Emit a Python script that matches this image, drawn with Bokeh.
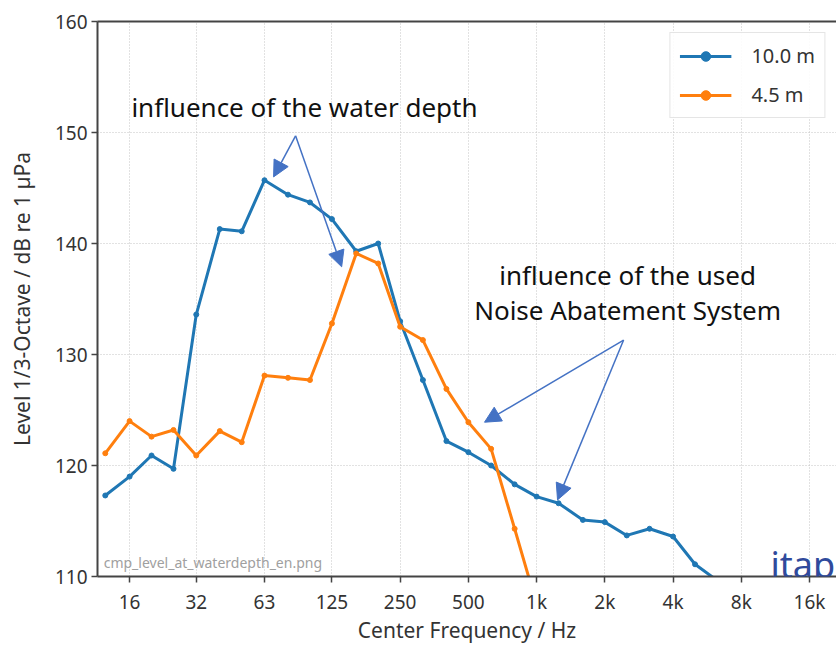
from bokeh.plotting import figure
from bokeh.models import FixedTicker, Arrow, NormalHead, Label, LogAxis
from bokeh.embed import file_html
from bokeh.resources import INLINE

# third-octave centre frequencies (Hz)
freq_10m = [12.5, 16, 20, 25, 31.5, 40, 50, 63, 80, 100, 125, 160, 200, 250, 315,
            400, 500, 630, 800, 1000, 1250, 1600, 2000, 2500, 3150, 4000, 5000, 6300]
level_10m = [117.3, 119.0, 120.9, 119.7, 133.6, 141.3, 141.1, 145.7, 144.4, 143.7, 142.2,
             139.3, 140.0, 133.0, 127.7, 122.2, 121.2, 120.0, 118.3, 117.2, 116.6, 115.1,
             114.9, 113.7, 114.3, 113.6, 111.1, 109.6]

freq_4_5m = [12.5, 16, 20, 25, 31.5, 40, 50, 63, 80, 100, 125, 160, 200, 250, 315,
             400, 500, 630, 800, 1000]
level_4_5m = [121.1, 124.0, 122.6, 123.2, 120.9, 123.1, 122.1, 128.1, 127.9, 127.7, 132.8,
              139.1, 138.2, 132.5, 131.3, 126.9, 123.9, 121.5, 114.3, 107.5]

series_labels = ["10.0 m", "4.5 m"]
series_colors = ["#1f77b4", "#ff7f0e"]

x_ticks = [16, 31.5, 63, 125, 250, 500, 1000, 2000, 4000, 8000, 16000]
x_tick_labels = ["16", "32", "63", "125", "250", "500", "1k", "2k", "4k", "8k", "16k"]
y_ticks = [110, 120, 130, 140, 150, 160]

x_title = "Center Frequency / Hz"
y_title = "Level 1/3-Octave / dB re 1 \u00b5Pa"

# annotation texts and arrows (data coordinates)
note_depth = "influence of the water depth"
note_depth_pos = (16.3, 152.3)
note_nas = ["influence of the used", "Noise Abatement System"]
note_nas_pos = [(2520, 137.2), (2520, 134.0)]
arrows_start = [(86.4, 149.7), (86.4, 149.7), (2420, 131.3), (2420, 131.3)]
arrows_end = [(69.1, 146.0), (138, 137.9), (1237, 116.9), (589, 123.9)]

FONT = "Noto Sans"
SPINE = "#444444"

p = figure(width=836, height=646, x_axis_type="log", x_range=(11.55, 21045),
           y_range=(110, 160), output_backend="svg", toolbar_location=None,
           min_border_left=97, min_border_right=0, min_border_top=21,
           min_border_bottom=70)
p.outline_line_color = None

# x axis
xt = FixedTicker(ticks=x_ticks, minor_ticks=[])
p.xaxis.ticker = xt
p.xaxis.major_label_overrides = {t: l for t, l in zip(x_ticks, x_tick_labels)}
p.xaxis.axis_label = x_title
# y axis
yt = FixedTicker(ticks=y_ticks, minor_ticks=[])
p.yaxis.ticker = yt
p.yaxis.axis_label = y_title

for ax in (p.xaxis, p.yaxis):
    ax.axis_line_color = SPINE
    ax.axis_line_width = 2
    ax.major_tick_line_color = SPINE
    ax.major_tick_line_width = 1.5
    ax.major_tick_out = 6
    ax.major_tick_in = 0
    ax.minor_tick_line_color = None
    ax.major_label_text_font = FONT
    ax.major_label_text_font_size = "19px"
    ax.major_label_text_color = "#333333"
    ax.axis_label_text_font = FONT
    ax.axis_label_text_font_size = "21px"
    ax.axis_label_text_font_style = "normal"
    ax.axis_label_text_color = "#333333"
p.xaxis.major_label_standoff = 6
p.xaxis.axis_label_standoff = -2
p.yaxis.major_label_standoff = 4
p.yaxis.axis_label_standoff = 16

# top spine
top = LogAxis(ticker=FixedTicker(ticks=[], minor_ticks=[]), axis_line_color=SPINE,
              axis_line_width=2, major_tick_line_color=None, minor_tick_line_color=None,
              major_label_text_font_size="0px")
p.add_layout(top, "above")

# grid
p.xgrid.ticker = xt
p.ygrid.ticker = yt
for g in (p.xgrid, p.ygrid):
    g.grid_line_color = "#c4c4c4"
    g.grid_line_dash = "1 2"
    g.grid_line_width = 1

# data
for f, v, lab, col in [(freq_10m, level_10m, series_labels[0], series_colors[0]),
                       (freq_4_5m, level_4_5m, series_labels[1], series_colors[1])]:
    p.line(f, v, line_width=3, color=col, legend_label=lab)
    p.scatter(f, v, size=5, color=col, legend_label=lab)

lg = p.legend[0]
lg.location = "top_right"
lg.label_text_font = FONT
lg.label_text_font_size = "20px"
lg.label_text_color = "#333333"
lg.glyph_width = 52
lg.glyph_height = 24
lg.label_height = 24
lg.label_standoff = 20
lg.spacing = 12
lg.padding = 9
lg.margin = 11
lg.border_line_color = "#cccccc"
lg.border_line_width = 1.5
lg.background_fill_alpha = 0.9

# annotations
ARROW_COL = "#4472c4"
for (xs, ys), (xe, ye) in zip(arrows_start, arrows_end):
    p.add_layout(Arrow(x_start=xs, y_start=ys, x_end=xe, y_end=ye,
                       line_color=ARROW_COL, line_width=1.5,
                       end=NormalHead(size=16, fill_color=ARROW_COL,
                                      line_color=ARROW_COL, line_width=1)))

p.add_layout(Label(x=note_depth_pos[0], y=note_depth_pos[1], text=note_depth,
                   text_font=FONT, text_font_size="26px", text_color="#111111",
                   text_baseline="middle", text_align="left"))
for t, (xx, yy) in zip(note_nas, note_nas_pos):
    p.add_layout(Label(x=xx, y=yy, text=t, text_font=FONT, text_font_size="26px",
                       text_color="#111111", text_baseline="middle", text_align="center"))

p.add_layout(Label(x=12.3, y=111.26, text="cmp_level_at_waterdepth_en.png",
                   text_font=FONT, text_font_size="14px", text_color="#a0a0a0",
                   text_baseline="middle", text_align="left"))
p.add_layout(Label(x=10770, y=111.1, text="itap", text_font=FONT,
                   text_font_size="36px", text_color="#2f4a9c",
                   text_baseline="alphabetic", text_align="left"))

open("out.html", "w").write(file_html(p, INLINE))
